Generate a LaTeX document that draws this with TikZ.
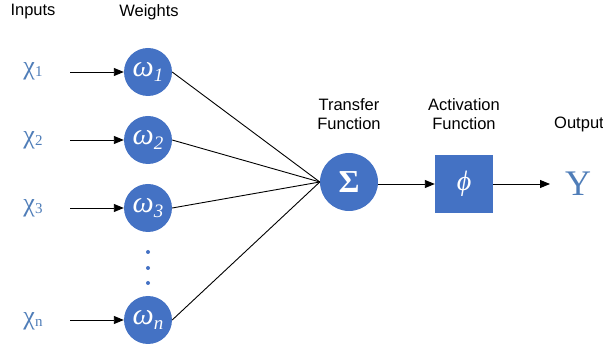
\documentclass[tikz,border=0pt]{standalone}
\usepackage{fontspec}
\setmainfont{Liberation Sans}
\newfontfamily\serifm{Liberation Serif}
\usetikzlibrary{arrows.meta}
\definecolor{nblue}{HTML}{4472C4}
\definecolor{tblue}{HTML}{4F7DB8}
\begin{document}
\begin{tikzpicture}[x=1pt,y=-1pt,
  wnode/.style={circle,fill=nblue,minimum size=48pt,inner sep=0pt,text=white,font=\serifm\fontsize{30}{30}\selectfont\itshape},
  inlabel/.style={text=tblue,font=\serifm\fontsize{26}{26}\selectfont},
  hdr/.style={font=\fontsize{16.5}{19}\selectfont,align=center},
  arr/.style={-{Triangle[length=10pt,width=8pt]},line width=0.9pt},
  ln/.style={line width=0.9pt}]
\useasboundingbox (0,0) rectangle (603,347);
\node[hdr] (hin) at (33,12) {Inputs};
\node[hdr] (hw) at (149,12) {Weights};
\node[hdr] (htf) at (349,114) {Transfer\\Function};
\node[hdr] (haf) at (464,114) {Activation\\Function};
\node[hdr] (hout) at (579,124) {Output};

\node[inlabel] (x1) at (33,71) {χ\fontsize{15}{15}\selectfont\raisebox{-2pt}{1}};
\node[inlabel] (x2) at (33,140) {χ\fontsize{15}{15}\selectfont\raisebox{-2pt}{2}};
\node[inlabel] (x3) at (33,208) {χ\fontsize{15}{15}\selectfont\raisebox{-2pt}{3}};
\node[inlabel] (xn) at (33,321) {χ\fontsize{15}{15}\selectfont\raisebox{-2pt}{n}};

\node[wnode] (w1) at (148,72) {ω\fontsize{19}{19}\selectfont\raisebox{-5pt}{1}};
\node[wnode] (w2) at (148,140) {ω\fontsize{19}{19}\selectfont\raisebox{-5pt}{2}};
\node[wnode] (w3) at (148,208) {ω\fontsize{19}{19}\selectfont\raisebox{-5pt}{3}};
\node[wnode] (wn) at (148,320) {ω\fontsize{19}{19}\selectfont\raisebox{-5pt}{n}};

\foreach \y/\n in {252/d1,268/d2,283/d3}{
  \node[circle,fill=nblue,inner sep=0pt,minimum size=4pt] (\n) at (148,\y) {};
}

\node[circle,fill=nblue,minimum size=58pt,inner sep=0pt,text=white,font=\serifm\fontsize{32}{32}\selectfont\bfseries] (sum) at (349,182) {Σ};
\node[rectangle,fill=nblue,minimum size=58pt,inner sep=0pt,text=white,font=\serifm\fontsize{28}{28}\selectfont\itshape] (act) at (464,184) {ϕ};
\node[text=tblue,font=\serifm\fontsize{36}{36}\selectfont] (y) at (578,184) {Y};

\coordinate (x1e) at (70,72);
\coordinate (x2e) at (70,140);
\coordinate (x3e) at (70,208);
\coordinate (xne) at (70,320);
\draw[arr] (x1e) -- (w1);
\draw[arr] (x2e) -- (w2);
\draw[arr] (x3e) -- (w3);
\draw[arr] (xne) -- (wn);

\draw[ln] (w1.east) -- (sum.west);
\draw[ln] (w2.east) -- (sum.west);
\draw[ln] (w3.east) -- (sum.west);
\draw[ln] (wn.east) -- (sum.west);

\draw[arr] (sum.east |- act.west) -- (act.west);
\coordinate (ye) at (550,184);
\draw[arr] (act.east) -- (ye);
\end{tikzpicture}
\end{document}
